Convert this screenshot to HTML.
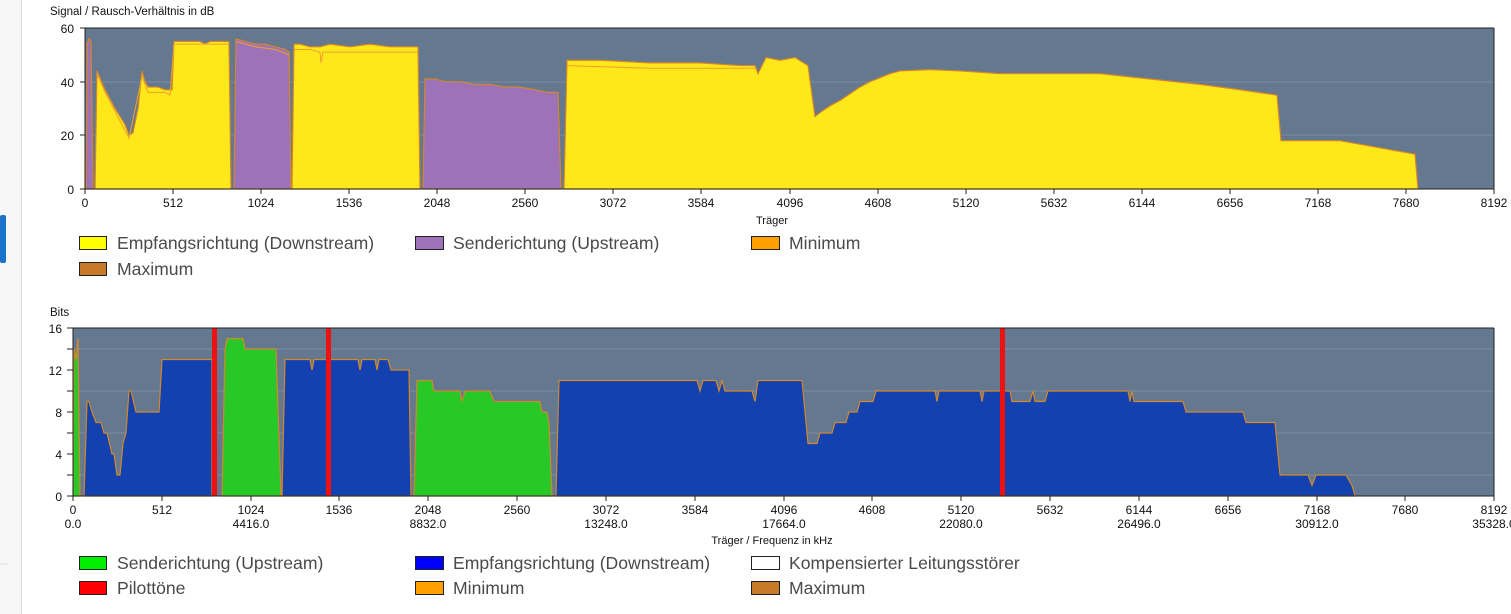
<!DOCTYPE html>
<html><head><meta charset="utf-8"><style>
body{margin:0;width:1511px;height:614px;background:#fff;overflow:hidden;font-family:"Liberation Sans",sans-serif}
svg{position:absolute;left:0;top:0}
text{font-family:"Liberation Sans",sans-serif;fill:#111}
.lg{font-size:17.6px;fill:#4a4a4a}
.t{font-size:12px}
</style></head><body>
<svg width="1511" height="614" viewBox="0 0 1511 614">
<rect x="0" y="0" width="21" height="614" fill="#f7f7f7"/>
<line x1="21.5" y1="0" x2="21.5" y2="614" stroke="#ddd"/>
<rect x="0" y="215" width="6" height="48" rx="2" fill="#1a73c9"/>
<line x1="0" y1="564" x2="8" y2="564" stroke="#ddd"/>

<!-- CHART 1 -->
<text x="50" y="15" font-size="11.5">Signal / Rausch-Verhältnis in dB</text>
<rect x="85" y="28" width="1409" height="161" fill="#64788f"/>
<g stroke="#7a8ca1" stroke-width="1"><line x1="85" y1="82" x2="1494" y2="82"/><line x1="85" y1="135" x2="1494" y2="135"/></g>
<g transform="translate(0,189) scale(1,-2.683)">
<path fill="#9d72b8" stroke="#d4862a" stroke-width="1.2" vector-effect="non-scaling-stroke" d="M86,0 L87,54 L89,56 L91,55 L93,0 Z"/>
<path fill="#9d72b8" stroke="#d4862a" stroke-width="1.2" vector-effect="non-scaling-stroke" d="M234,0 L236,56 L245,55 L255,54 L265,54 L275,53 L285,52 L289,51 L291,0 Z"/>
<path fill="#9d72b8" stroke="#d4862a" stroke-width="1.2" vector-effect="non-scaling-stroke" d="M423,0 L425,41 L435,41 L445,40 L460,40 L475,39 L490,39 L505,38 L520,38 L535,37 L548,36 L558,36 L561,0 Z"/>
<path fill="#ffe81a" stroke="#d4862a" stroke-width="1.2" vector-effect="non-scaling-stroke" d="M95,0 L97,44 L105,37 L115,30 L125,24 L129,20 L133,21 L138,30 L142,44 L145,40 L148,38 L158,38 L165,37 L170,37 L172,37 L174,55 L200,55 L205,54 L210,55 L229,55 L231,0 Z"/>
<path fill="#ffe81a" stroke="#d4862a" stroke-width="1.2" vector-effect="non-scaling-stroke" d="M292,0 L294,54 L300,54 L310,53 L320,53 L330,54 L350,53 L370,54 L390,53 L410,53 L418,53 L420,0 Z"/>
<path fill="#ffe81a" stroke="#d4862a" stroke-width="1.2" vector-effect="non-scaling-stroke" d="M564,0 L567,48 L600,48 L650,47 L700,47 L740,46 L755,46 L758,43 L762,46 L766,49 L780,48 L795,49 L808,46 L812,35 L815,27 L822,29 L830,31 L840,33 L850,35.5 L860,38 L870,40 L880,41.5 L890,43 L900,44 L930,44.5 L960,44 L1000,43 L1050,43 L1100,43 L1150,41 L1200,39 L1240,37 L1277,35 L1281,18 L1300,18 L1340,18 L1370,16 L1400,14 L1415,13 L1418,0 Z"/>
<polyline fill="none" stroke="#f0a030" stroke-width="1" vector-effect="non-scaling-stroke" points="97,43 105,36 129,19 142,42 148,36 165,36 170,35 174,54 229,54"/>
<polyline fill="none" stroke="#f0a030" stroke-width="1" vector-effect="non-scaling-stroke" points="236,55 255,53 275,52 289,50"/>
<polyline fill="none" stroke="#f0a030" stroke-width="1" vector-effect="non-scaling-stroke" points="294,52 310,52 320,51 321,47 323,51 400,51 418,51"/>
<polyline fill="none" stroke="#f0a030" stroke-width="1" vector-effect="non-scaling-stroke" points="567,46 650,45 755,45"/>
</g>
<line x1="85" y1="28" x2="1494" y2="28" stroke="#222"/>
<line x1="1494" y1="28" x2="1494" y2="189" stroke="#222"/>
<line x1="85" y1="28" x2="85" y2="189" stroke="#222"/>
<line x1="85" y1="189" x2="1494" y2="189" stroke="#222"/>
<g class="t" text-anchor="end">
<text x="74" y="33">60</text><text x="74" y="87">40</text><text x="74" y="140">20</text><text x="74" y="194">0</text>
</g>
<g stroke="#222"><line x1="80" y1="28" x2="85" y2="28"/><line x1="80" y1="82" x2="85" y2="82"/><line x1="80" y1="135" x2="85" y2="135"/><line x1="80" y1="189" x2="85" y2="189"/></g>
<g class="t" text-anchor="middle">
<text x="85" y="207">0</text><text x="173" y="207">512</text><text x="261" y="207">1024</text><text x="349" y="207">1536</text><text x="437" y="207">2048</text><text x="525" y="207">2560</text><text x="613" y="207">3072</text><text x="701" y="207">3584</text><text x="790" y="207">4096</text><text x="878" y="207">4608</text><text x="966" y="207">5120</text><text x="1054" y="207">5632</text><text x="1142" y="207">6144</text><text x="1230" y="207">6656</text><text x="1318" y="207">7168</text><text x="1406" y="207">7680</text><text x="1494" y="207">8192</text>
<text x="772" y="224" font-size="11" fill="#555">Träger</text>
</g>
<g stroke="#222"><line x1="85" y1="189" x2="85" y2="194"/><line x1="173" y1="189" x2="173" y2="194"/><line x1="261" y1="189" x2="261" y2="194"/><line x1="349" y1="189" x2="349" y2="194"/><line x1="437" y1="189" x2="437" y2="194"/><line x1="525" y1="189" x2="525" y2="194"/><line x1="613" y1="189" x2="613" y2="194"/><line x1="701" y1="189" x2="701" y2="194"/><line x1="790" y1="189" x2="790" y2="194"/><line x1="878" y1="189" x2="878" y2="194"/><line x1="966" y1="189" x2="966" y2="194"/><line x1="1054" y1="189" x2="1054" y2="194"/><line x1="1142" y1="189" x2="1142" y2="194"/><line x1="1230" y1="189" x2="1230" y2="194"/><line x1="1318" y1="189" x2="1318" y2="194"/><line x1="1406" y1="189" x2="1406" y2="194"/><line x1="1494" y1="189" x2="1494" y2="194"/></g>
<!-- legend 1 -->
<g stroke="#222" stroke-width="1">
<rect x="79.5" y="236.5" width="27" height="13" fill="#ffff00"/>
<rect x="415.5" y="236.5" width="28" height="13" fill="#9d72b8"/>
<rect x="751.5" y="236.5" width="28" height="13" fill="#ff9f00"/>
<rect x="79.5" y="262.5" width="27" height="13" fill="#c77a2a"/>
</g>
<text class="lg" x="117" y="249">Empfangsrichtung (Downstream)</text>
<text class="lg" x="453" y="249">Senderichtung (Upstream)</text>
<text class="lg" x="789" y="249">Minimum</text>
<text class="lg" x="117" y="275">Maximum</text>

<!-- CHART 2 -->
<text x="50" y="316" font-size="11.5">Bits</text>
<rect x="73" y="328" width="1421" height="168" fill="#64788f"/>
<g stroke="#7a8ca1" stroke-width="1"><line x1="73" y1="349" x2="1494" y2="349"/><line x1="73" y1="391" x2="1494" y2="391"/><line x1="73" y1="433" x2="1494" y2="433"/><line x1="73" y1="475" x2="1494" y2="475"/></g>
<g transform="translate(0,496) scale(1,-10.5)">
<path fill="#28c828" stroke="#d4862a" stroke-width="1.2" vector-effect="non-scaling-stroke" d="M73,0 L74,14 L76,13 L78,15 L80,0 Z"/>
<path fill="#1341b0" stroke="#d4862a" stroke-width="1.2" vector-effect="non-scaling-stroke" d="M84,0 L87,9 L89,9 L92,8 L96,7 L101,7 L104,6 L107,6 L112,4 L114,4 L117,2 L120,2 L123,5 L126,6 L129,10 L131,10 L136,8 L159,8 L162,13 L212,13 L212,0 Z"/>
<path fill="#28c828" stroke="#d4862a" stroke-width="1.2" vector-effect="non-scaling-stroke" d="M222,0 L225,14 L227,15 L243,15 L245,14 L276,14 L281,0 Z"/>
<path fill="#1341b0" stroke="#d4862a" stroke-width="1.2" vector-effect="non-scaling-stroke" d="M282,0 L285,13 L310,13 L312,12 L314,13 L358,13 L360,12 L362,13 L375,13 L377,12 L379,13 L388,13 L391,12 L397,12 L409,12 L411,0 Z"/>
<path fill="#28c828" stroke="#d4862a" stroke-width="1.2" vector-effect="non-scaling-stroke" d="M414,0 L417,11 L432,11 L434,10 L450,10 L460,10 L462,9 L465,10 L490,10 L494,9 L540,9 L542,8 L547,8 L549,7 L552,0 Z"/>
<path fill="#1341b0" stroke="#d4862a" stroke-width="1.2" vector-effect="non-scaling-stroke" d="M556,0 L559,11 L697,11 L700,10 L703,11 L716,11 L719,10 L722,11 L725,10 L752,10 L755,9 L758,11 L802,11 L808,5 L817,5 L820,6 L832,6 L835,7 L846,7 L849,8 L857,8 L860,9 L873,9 L876,10 L935,10 L937,9 L939,10 L980,10 L982,9 L984,10 L1010,10 L1012,9 L1030,9 L1033,10 L1035,9 L1045,9 L1048,10 L1128,10 L1130,9 L1132,10 L1134,9 L1183,9 L1186,8 L1243,8 L1246,7 L1275,7 L1280,2 L1308,2 L1312,1 L1316,2 L1346,2 L1352,1 L1355,0 Z"/>
</g>
<g fill="#ee1111"><rect x="212" y="328" width="5" height="168"/><rect x="326" y="328" width="5" height="168"/><rect x="1000" y="328" width="5" height="168"/></g>
<line x1="73" y1="328" x2="1494" y2="328" stroke="#222"/>
<line x1="1494" y1="328" x2="1494" y2="496" stroke="#222"/>
<line x1="73" y1="328" x2="73" y2="496" stroke="#222"/>
<line x1="73" y1="496" x2="1494" y2="496" stroke="#222"/>
<g class="t" text-anchor="end">
<text x="62" y="333">16</text><text x="62" y="375">12</text><text x="62" y="417">8</text><text x="62" y="459">4</text><text x="62" y="501">0</text>
</g>
<g stroke="#222"><line x1="67" y1="328" x2="73" y2="328"/><line x1="67" y1="349" x2="73" y2="349"/><line x1="67" y1="370" x2="73" y2="370"/><line x1="67" y1="391" x2="73" y2="391"/><line x1="67" y1="412" x2="73" y2="412"/><line x1="67" y1="433" x2="73" y2="433"/><line x1="67" y1="454" x2="73" y2="454"/><line x1="67" y1="475" x2="73" y2="475"/><line x1="67" y1="496" x2="73" y2="496"/></g>
<g class="t" text-anchor="middle">
<text x="73" y="514">0</text><text x="162" y="514">512</text><text x="251" y="514">1024</text><text x="339" y="514">1536</text><text x="428" y="514">2048</text><text x="517" y="514">2560</text><text x="606" y="514">3072</text><text x="695" y="514">3584</text><text x="784" y="514">4096</text><text x="872" y="514">4608</text><text x="961" y="514">5120</text><text x="1050" y="514">5632</text><text x="1139" y="514">6144</text><text x="1228" y="514">6656</text><text x="1317" y="514">7168</text><text x="1405" y="514">7680</text><text x="1494" y="514">8192</text>
<text x="73" y="528">0.0</text><text x="251" y="528">4416.0</text><text x="428" y="528">8832.0</text><text x="606" y="528">13248.0</text><text x="784" y="528">17664.0</text><text x="961" y="528">22080.0</text><text x="1139" y="528">26496.0</text><text x="1317" y="528">30912.0</text><text x="1494" y="528">35328.0</text>
<text x="772" y="544" font-size="11" fill="#555">Träger / Frequenz in kHz</text>
</g>
<g stroke="#222"><line x1="73" y1="496" x2="73" y2="501"/><line x1="162" y1="496" x2="162" y2="501"/><line x1="251" y1="496" x2="251" y2="501"/><line x1="339" y1="496" x2="339" y2="501"/><line x1="428" y1="496" x2="428" y2="501"/><line x1="517" y1="496" x2="517" y2="501"/><line x1="606" y1="496" x2="606" y2="501"/><line x1="695" y1="496" x2="695" y2="501"/><line x1="784" y1="496" x2="784" y2="501"/><line x1="872" y1="496" x2="872" y2="501"/><line x1="961" y1="496" x2="961" y2="501"/><line x1="1050" y1="496" x2="1050" y2="501"/><line x1="1139" y1="496" x2="1139" y2="501"/><line x1="1228" y1="496" x2="1228" y2="501"/><line x1="1317" y1="496" x2="1317" y2="501"/><line x1="1405" y1="496" x2="1405" y2="501"/><line x1="1494" y1="496" x2="1494" y2="501"/></g>
<!-- legend 2 -->
<g stroke="#222" stroke-width="1">
<rect x="79.5" y="556.5" width="27" height="13" fill="#00ee00"/>
<rect x="415.5" y="556.5" width="28" height="13" fill="#0000ff"/>
<rect x="751.5" y="556.5" width="28" height="13" fill="#ffffff"/>
<rect x="79.5" y="581.5" width="27" height="13" fill="#ff0000"/>
<rect x="415.5" y="581.5" width="28" height="13" fill="#ff9f00"/>
<rect x="751.5" y="581.5" width="28" height="13" fill="#c77a2a"/>
</g>
<text class="lg" x="117" y="569">Senderichtung (Upstream)</text>
<text class="lg" x="453" y="569">Empfangsrichtung (Downstream)</text>
<text class="lg" x="789" y="569">Kompensierter Leitungsstörer</text>
<text class="lg" x="117" y="594">Pilottöne</text>
<text class="lg" x="453" y="594">Minimum</text>
<text class="lg" x="789" y="594">Maximum</text>
</svg>
</body></html>
